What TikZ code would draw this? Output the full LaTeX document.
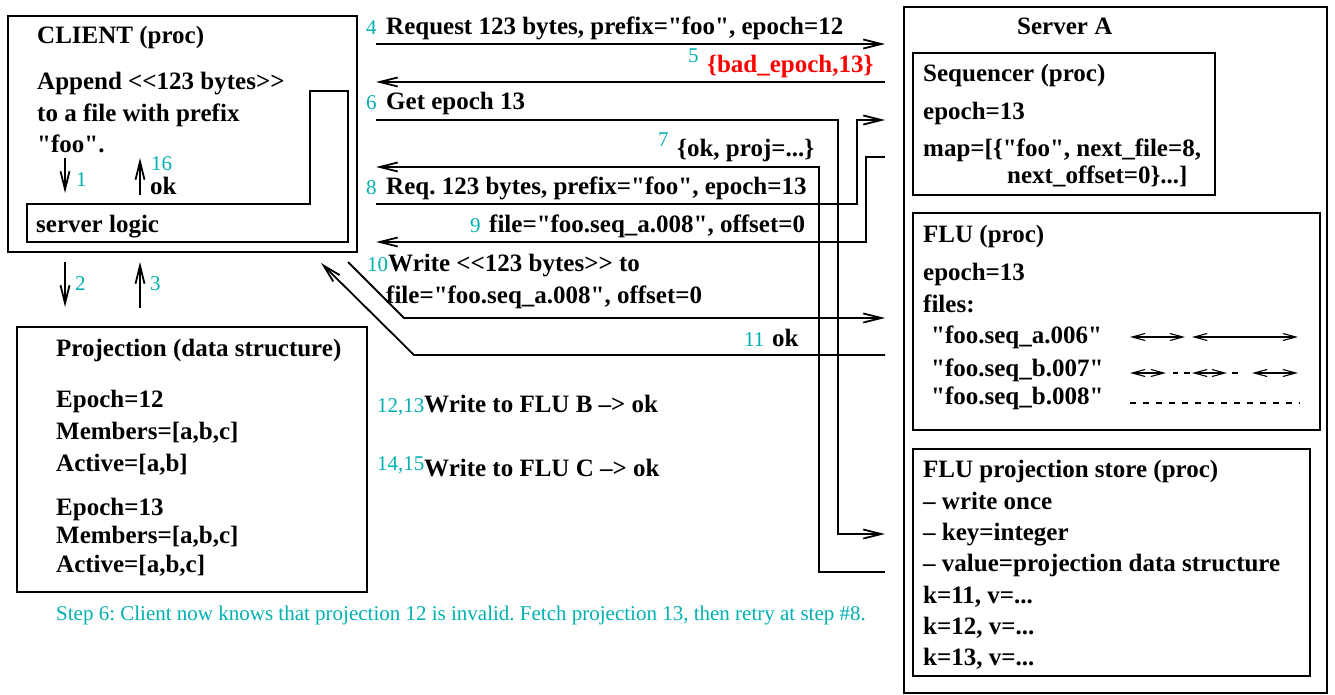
\documentclass[tikz,border=0pt]{standalone}
\usepackage{fontspec}
\setmainfont{Liberation Serif}[Ligatures=TeXOff]
\usetikzlibrary{arrows.meta,fit}
\definecolor{stepcyan}{RGB}{0,176,176}
\definecolor{errred}{RGB}{255,0,0}
\frenchspacing
\begin{document}
\begin{tikzpicture}[x=1pt,y=-1pt,
  panel/.style={draw, line width=1.8pt, inner sep=0pt},
  lbl/.style={anchor=base west, inner sep=0pt, font=\bfseries\fontsize{25}{30}\selectfont},
  stepnum/.style={anchor=base west, inner sep=0pt, text=stepcyan, font=\fontsize{21}{25}\selectfont},
  wire/.style={line width=1.8pt},
  conn/.style={wire, -{Straight Barb[length=18pt,width=9pt]}},
  minitip/.style={line width=1.1pt, {Straight Barb[length=13pt,width=7pt]}-{Straight Barb[length=13pt,width=7pt]}},
  thin/.style={line width=1.1pt},
]
\useasboundingbox (0,0) rectangle (1335,695);

% ---------------- CLIENT ----------------
\node[panel, fit={(8,16) (357,252)}] (client) {};
\draw[wire] (27,204) -- (310,204) -- (310,91) -- (348,91) -- (348,242) -- (27,242) -- cycle;
\node[lbl] (clienttitle) at (37,44) {CLIENT (proc)};
\node[lbl] (append1) at (37,89.5) {Append <<123 bytes>>};
\node[lbl] (append2) at (37,121.5) {to a file with prefix};
\node[lbl] (append3) at (37,153) {"foo".};
\node[lbl] (slogic) at (36,232) {server logic};

\coordinate (a1s) at (65,158); \coordinate (a1e) at (65,193);
\draw[conn] (a1s) -- (a1e);
\node[stepnum] (n1) at (76,186) {1};
\coordinate (a16s) at (140,195); \coordinate (a16e) at (140,158);
\draw[conn] (a16s) -- (a16e);
\node[stepnum] (n16) at (151,171) {16};
\node[lbl] (ok16) at (150,194) {ok};

\coordinate (a2s) at (65,262); \coordinate (a2e) at (65,307);
\draw[conn] (a2s) -- (a2e);
\node[stepnum] (n2) at (75,290) {2};
\coordinate (a3s) at (140,308); \coordinate (a3e) at (140,262);
\draw[conn] (a3s) -- (a3e);
\node[stepnum] (n3) at (150,290) {3};

% ---------------- Projection ----------------
\node[panel, fit={(17,327) (367,592)}] (proj) {};
\node[lbl] (projtitle) at (56,356) {Projection (data structure)};
\node[lbl] (e12) at (56,407) {Epoch=12};
\node[lbl] (m12) at (56,439) {Members=[a,b,c]};
\node[lbl] (act12) at (56,471.5) {Active=[a,b]};
\node[lbl] (e13) at (56,515) {Epoch=13};
\node[lbl] (m13) at (56,543) {Members=[a,b,c]};
\node[lbl] (act13) at (56,572) {Active=[a,b,c]};

% ---------------- Messages ----------------
\node[stepnum] (n4) at (366,35) {4};
\node[lbl] (msg4) at (386,35) {Request 123 bytes, prefix="foo", epoch=12};
\coordinate (l4s) at (376,44); \coordinate (l4e) at (885,44);
\draw[conn] (l4s) -- (l4e);

\node[stepnum] (n5) at (688,63) {5};
\node[lbl, text=errred] (msg5) at (707,73) {\{bad\_epoch,13\}};
\coordinate (l5s) at (885,82); \coordinate (l5e) at (376,82);
\draw[conn] (l5s) -- (l5e);

\node[stepnum] (n6) at (366,110) {6};
\node[lbl] (msg6) at (386,110) {Get epoch 13};
\coordinate (l6s) at (376,120); \coordinate (l6e) at (885,534);
\draw[conn] (l6s) -- (838,120) -- (838,534) -- (l6e);

\node[stepnum] (n7) at (658,147) {7};
\node[lbl] (msg7) at (677,157) {\{ok, proj=...\}};
\coordinate (l7s) at (885,572); \coordinate (l7e) at (376,167);
\draw[conn] (l7s) -- (819,572) -- (819,167) -- (l7e);

\node[stepnum] (n8) at (366,195) {8};
\node[lbl] (msg8) at (386,195) {Req. 123 bytes, prefix="foo", epoch=13};
\coordinate (l8s) at (376,204); \coordinate (l8e) at (885,120);
\draw[conn] (l8s) -- (857,204) -- (857,120) -- (l8e);

\node[stepnum] (n9) at (470,232) {9};
\node[lbl] (msg9) at (489,232) {file="foo.seq\_a.008", offset=0};
\coordinate (l9s) at (885,157); \coordinate (l9e) at (376,242);
\draw[conn] (l9s) -- (866,157) -- (866,242) -- (l9e);

\node[stepnum] (n10) at (367,271) {10};
\node[lbl] (msg10a) at (388,271) {Write <<123 bytes>> to};
\node[lbl] (msg10b) at (386,303) {file="foo.seq\_a.008", offset=0};
\coordinate (l10s) at (348,262); \coordinate (l10e) at (885,318);
\draw[conn] (l10s) -- (404,318) -- (l10e);

\node[stepnum] (n11) at (744,346) {11};
\node[lbl] (msg11) at (772,346) {ok};
\coordinate (l11s) at (885,355); \coordinate (l11e) at (321,263);
\draw[conn] (l11s) -- (414,355) -- (l11e);

\node[stepnum] (n1213) at (377,412) {12,13};
\node[lbl] (msgB) at (424,412) {Write to FLU B –> ok};
\node[stepnum] (n1415) at (377,470) {14,15};
\node[lbl] (msgC) at (424,476) {Write to FLU C –> ok};

\node[stepnum] (note) at (56,620) {Step 6: Client now knows that projection 12 is invalid. Fetch projection 13, then retry at step \#8.};

% ---------------- Server A ----------------
\node[panel, fit={(904,7) (1327,693)}] (serverA) {};
\node[lbl] (serverAtitle) at (1017,35) {Server A};

\node[panel, fit={(913,53) (1215,195)}] (seq) {};
\node[lbl] (seqtitle) at (923,82) {Sequencer (proc)};
\node[lbl] (seqepoch) at (923,120) {epoch=13};
\node[lbl] (seqmap1) at (923,157) {map=[\{"foo", next\_file=8,};
\node[lbl] (seqmap2) at (1007,183) {next\_offset=0\}...]};

\node[panel, fit={(913,213) (1320,430)}] (flu) {};
\node[lbl] (flutitle) at (923,242) {FLU (proc)};
\node[lbl] (fluepoch) at (923,280) {epoch=13};
\node[lbl] (flufiles) at (923,312) {files:};
\node[lbl] (f6) at (931,343) {"foo.seq\_a.006"};
\node[lbl] (f7) at (931,376) {"foo.seq\_b.007"};
\node[lbl] (f8) at (931,404) {"foo.seq\_b.008"};

\draw[minitip] (1130,337) -- (1185,337);
\draw[minitip] (1192,337) -- (1298,337);
\draw[minitip] (1130,373) -- (1166,373);
\draw[thin] (1173,373) -- (1178,373);
\draw[thin] (1184,373) -- (1190,373);
\draw[minitip] (1192,373) -- (1227,373);
\draw[thin] (1232,373) -- (1238,373);
\draw[minitip] (1252,373) -- (1298,373);
\draw[thin, dash pattern=on 6pt off 7pt] (1130,403) -- (1300,403);

\node[panel, fit={(913,449) (1310,676)}] (store) {};
\node[lbl] (st1) at (923,477) {FLU projection store (proc)};
\node[lbl] (st2) at (923,509) {– write once};
\node[lbl] (st3) at (923,540) {– key=integer};
\node[lbl] (st4) at (923,571) {– value=projection data structure};
\node[lbl] (st5) at (923,603) {k=11, v=...};
\node[lbl] (st6) at (923,634) {k=12, v=...};
\node[lbl] (st7) at (923,665) {k=13, v=...};
\end{tikzpicture}
\end{document}
